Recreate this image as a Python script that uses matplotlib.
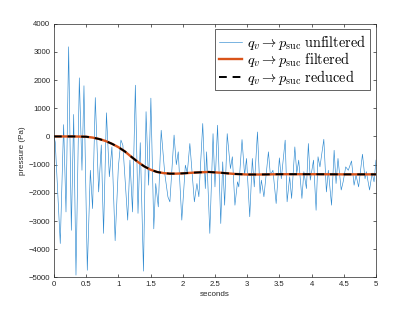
import numpy as np
import matplotlib
matplotlib.use('Agg')
from matplotlib import pyplot as plt

plt.rcParams['font.family'] = ['Liberation Sans', 'DejaVu Sans']
plt.rcParams['mathtext.fontset'] = 'cm'

# unfiltered signal (peaks / troughs)
t_raw = [0.00, 0.02, 0.098, 0.15, 0.187, 0.228, 0.27, 0.306, 0.342, 0.394,
         0.435, 0.466, 0.518, 0.565, 0.60, 0.642, 0.694, 0.735, 0.77, 0.815,
         0.86, 0.90, 0.95, 1.00, 1.04, 1.07, 1.145, 1.18, 1.22, 1.264,
         1.305, 1.34, 1.39, 1.43, 1.47, 1.505, 1.55, 1.58, 1.62, 1.665,
         1.72, 1.77, 1.80, 1.865, 1.90, 1.93, 1.985, 2.04, 2.07, 2.11,
         2.18, 2.22, 2.25, 2.31, 2.35, 2.37, 2.42, 2.47, 2.50, 2.54,
         2.59, 2.62, 2.65, 2.69, 2.74, 2.77, 2.81, 2.85, 2.87, 2.92,
         2.96, 2.99, 3.04, 3.08, 3.11, 3.16, 3.20, 3.22, 3.26, 3.33,
         3.36, 3.40, 3.45, 3.50, 3.53, 3.59, 3.62, 3.66, 3.69, 3.74,
         3.77, 3.80, 3.85, 3.88, 3.92, 3.95, 3.98, 4.03, 4.07, 4.10,
         4.13, 4.19, 4.23, 4.26, 4.31, 4.35, 4.38, 4.41, 4.46, 4.49,
         4.53, 4.57, 4.62, 4.66, 4.69, 4.73, 4.79, 4.83, 4.85, 4.90,
         4.94, 4.97, 5.00]
p_raw = [0, -200, -3800, 420, -2680, 3180, -3330, 780, -4920, 2080,
         -1200, 1800, -4750, -1200, -2560, 1380, -1970, -300, -3440, 840,
         -1430, -370, -3700, -1080, -130, -310, -2970, -840, -2680, 1820,
         -2730, -220, -4780, 880, -1730, 1360, -3280, -1670, -2500, 220,
         -1310, -2150, -2320, 50, -1000, -545, -2970, -1020, -1300, -250,
         -2320, -1670, -2140, 460, -1850, -545, -3440, 100, -1790, 400,
         -3090, -900, -2440, 100, -1140, -720, -2440, -1610, -1790, -110,
         -1370, -780, -2850, -780, -1790, 160, -2020, -1550, -2140, -545,
         -1370, -1200, -2380, -760, -1500, -130, -2320, -1430, -2200, -370,
         -1300, -840, -2200, -1250, -1850, -250, -1550, -840, -2620, -720,
         -1080, -100, -1970, -1200, -2440, -490, -1670, -780, -1900, -1610,
         -1080, -1200, -870, -1730, -1370, -1790, -630, -1500, -1250, -1900,
         -1300, -1610, -840]

# filtered / reduced responses
t_filt = [0.0, 0.3, 0.5, 0.6, 0.7, 0.8, 0.9, 1.0, 1.1, 1.2, 1.3, 1.4, 1.5,
          1.6, 1.7, 1.8, 1.9, 2.0, 2.2, 2.4, 2.6, 2.8, 3.0, 3.2, 3.5, 4.0,
          4.5, 5.0]
p_filt = [0, 0, -10, -40, -90, -160, -260, -380, -530, -720, -900, -1060,
          -1180, -1260, -1300, -1320, -1320, -1310, -1280, -1260, -1290,
          -1330, -1350, -1350, -1340, -1340, -1345, -1345]
p_red = [0, 0, -10, -40, -90, -160, -260, -380, -530, -720, -900, -1060,
         -1180, -1260, -1300, -1320, -1320, -1310, -1280, -1260, -1290,
         -1330, -1350, -1350, -1340, -1340, -1345, -1345]

fig = plt.figure(figsize=(4.15, 3.12), dpi=100)
ax = fig.add_axes([0.130, 0.111, 0.776, 0.813])

ax.plot(t_raw, p_raw, color='#2F8AD0', lw=0.45,
        label=r'$q_v \rightarrow p_{\mathrm{suc}}\ \mathrm{unfiltered}$')
ax.plot(t_filt, p_filt, color='#D95319', lw=1.7,
        label=r'$q_v \rightarrow p_{\mathrm{suc}}\ \mathrm{filtered}$')
ax.plot(t_filt, p_red, color='black', lw=1.4, ls=(0, (4, 3)),
        label=r'$q_v \rightarrow p_{\mathrm{suc}}\ \mathrm{reduced}$')

ax.set_xlim(0, 5)
ax.set_ylim(-5000, 4000)
ax.set_xticks(np.arange(0, 5.01, 0.5))
ax.set_xticklabels(['0', '0.5', '1', '1.5', '2', '2.5', '3', '3.5', '4', '4.5', '5'])
ax.set_yticks(np.arange(-5000, 4001, 1000))
ax.tick_params(direction='in', top=True, right=True, length=2.5, width=0.5,
               labelsize=5.6, colors='#262626', pad=2.5)
for s in ax.spines.values():
    s.set_linewidth(0.5)
    s.set_color('#262626')

ax.set_xlabel('seconds', fontsize=5.8, color='#262626', labelpad=2)
ax.set_ylabel('pressure (Pa)', fontsize=5.8, color='#262626', labelpad=2)

leg = ax.legend(loc='upper right', fontsize=10.3, handlelength=1.6,
                labelspacing=-0.12, borderaxespad=0.4, fancybox=False,
                framealpha=1, edgecolor='#262626', borderpad=0.25,
                handletextpad=0.4)
leg.get_frame().set_linewidth(0.5)

fig.savefig('out.png', dpi=100)
